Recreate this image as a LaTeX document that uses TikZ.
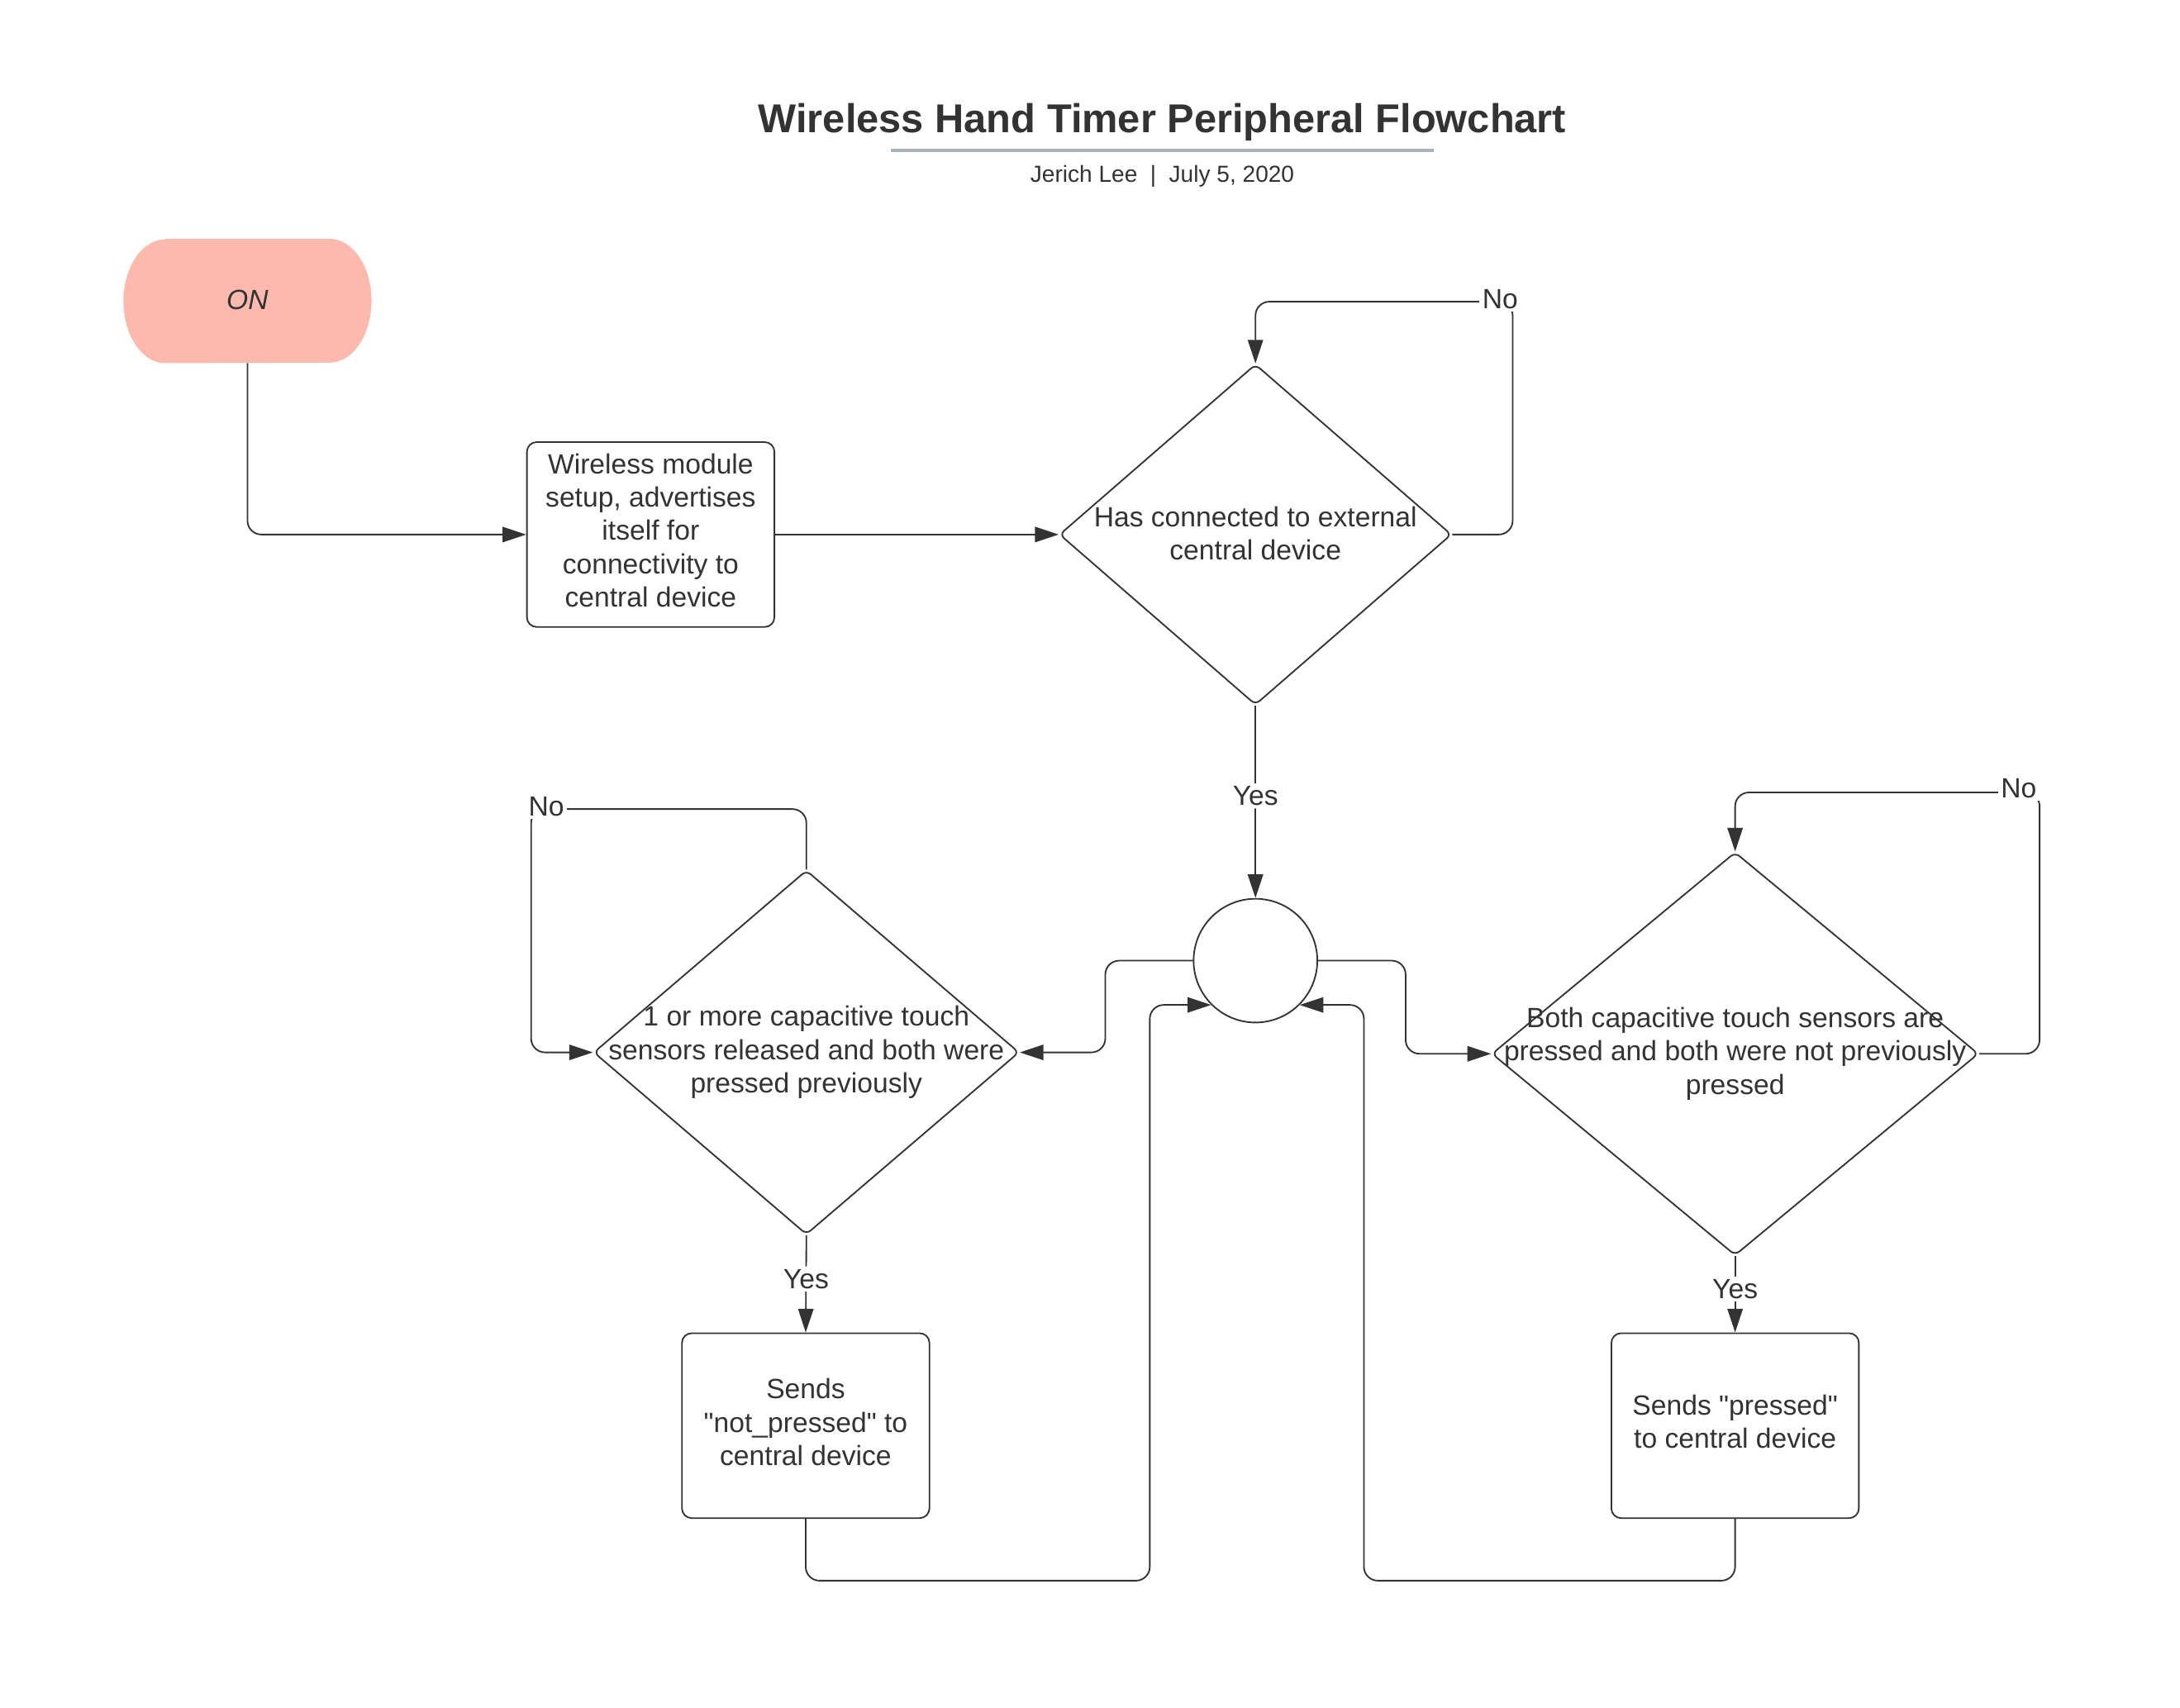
\documentclass[tikz,border=0pt]{standalone}
\usepackage{fontspec}
\setmainfont{Liberation Sans}
\usetikzlibrary{arrows.meta,shapes.geometric}
\definecolor{ink}{HTML}{333333}
\definecolor{onfill}{HTML}{FDB9AE}
\definecolor{rulec}{HTML}{A9B1B8}
\newcommand{\sq}{\XeTeXglyph\XeTeXcharglyph"22\relax}
\begin{document}
\begin{tikzpicture}[x=1pt,y=-1pt,
  conn/.style={draw=ink, line width=1.1pt, rounded corners=10pt, -{Triangle[length=17pt,width=11pt]}},
  boxnode/.style={draw=ink, line width=1.1pt, rounded corners=7pt, fill=white, minimum width=178pt, minimum height=133pt, inner sep=0pt},
  dia/.style={diamond, draw=ink, line width=1.1pt, rounded corners=4pt, inner sep=0pt},
  txt/.style={font=\fontsize{20}{24}\selectfont, text=ink, align=center, inner sep=0pt},
  lbl/.style={font=\fontsize{20}{24}\selectfont, text=ink, fill=white, inner sep=2pt}]
\fill[white] (0,0) rectangle (1568,1228.6);
\useasboundingbox (0,0) rectangle (1568,1228.6);

% title
\node[font=\fontsize{29}{34}\selectfont\bfseries, text=ink] (title) at (836,88) {Wireless Hand Timer Peripheral Flowchart};
\draw[rulec, line width=2.5pt] (641,108) -- (1031,108);
\node[font=\fontsize{16.7}{20}\selectfont, text=ink] (sub) at (836,127) {Jerich Lee\hspace{0.55em}|\hspace{0.55em}July 5, 2020};

% ON terminator
\node[minimum width=178pt, minimum height=89pt, inner sep=0pt] (on) at (178,216.5) {};
\fill[onfill] ([xshift=30pt]on.north west) -- ([xshift=-30pt]on.north east)
  arc[start angle=-90, end angle=90, x radius=30, y radius=44.5]
  -- ([xshift=30pt]on.south west)
  arc[start angle=90, end angle=270, x radius=30, y radius=44.5] -- cycle;
\node[font=\fontsize{20}{24}\selectfont\itshape, text=ink] at ([yshift=1pt]on.center) {ON};

% process boxes
\node[boxnode] (box1) at (468,384.5) {};
\node[boxnode] (box2) at (579.5,1025.5) {};
\node[boxnode] (box3) at (1248,1025.5) {};
\node[txt] (bt1) at ([yshift=3pt]box1.center) {Wireless module\\setup, advertises\\itself for\\connectivity to\\central device};
\node[txt] (bt2) at ([yshift=2.5pt]box2.center) {Sends\\\sq not\_pressed\sq{} to\\central device};
\node[txt] (bt3) at ([yshift=3pt]box3.center) {Sends \sq pressed\sq\\to central device};

% decisions
\node[dia, minimum width=282pt, minimum height=245pt] (d1) at (903,384.5) {};
\node[dia, minimum width=306pt, minimum height=262pt] (d2) at (580,757) {};
\node[dia, minimum width=350pt, minimum height=290pt] (d3) at (1248,758) {};

% junction
\node[circle, draw=ink, line width=1.1pt, minimum size=89pt, inner sep=0pt] (circ) at (903,691) {};

% connectors
\draw[conn] (on.south) |- (box1.west);
\draw[conn] (box1.east) -- (d1.west);

\coordinate (c1) at (1088,217);
\draw[conn] (d1.east) -| (c1) -| (d1.north);
\node[lbl] (no1) at (1079,215) {No};

\draw[conn] (d1.south) -- node[lbl, pos=0.47] (yes1) {Yes} (circ.north);

\coordinate (k1) at (795,691);
\draw[conn] (circ.west) -- (k1) |- (d2.east);
\coordinate (k2) at (1011,691);
\draw[conn] (circ.east) -- (k2) |- (d3.west);

\coordinate (c2) at (382,582);
\draw[conn] (d2.north) |- (c2) |- (d2.west);
\node[lbl] (no2) at (393,580) {No};

\coordinate (c3) at (1467,570);
\draw[conn] (d3.east) -| (c3) -| (d3.north);
\node[lbl] (no3) at (1452,567) {No};

\draw[conn] (d2.south) -- node[lbl, pos=0.45] (yes2) {Yes} (box2.north);
\draw[conn] (d3.south) -- node[lbl, pos=0.43] (yes3) {Yes} (box3.north);

\coordinate (b1) at (827,1137);
\draw[conn] (box2.south) |- (b1) |- (circ.225);
\coordinate (b2) at (981,1137);
\draw[conn] (box3.south) |- (b2) |- (circ.-45);

% decision texts
\node[txt] (t1) at ([yshift=1pt]d1.center) {Has connected to external\\central device};
\node[txt] (t2) at (d2.center) {1 or more capacitive touch\\sensors released and both were\\pressed previously};
\node[txt] (t3) at (d3.center) {Both capacitive touch sensors are\\pressed and both were not previously\\pressed};
\end{tikzpicture}
\end{document}
